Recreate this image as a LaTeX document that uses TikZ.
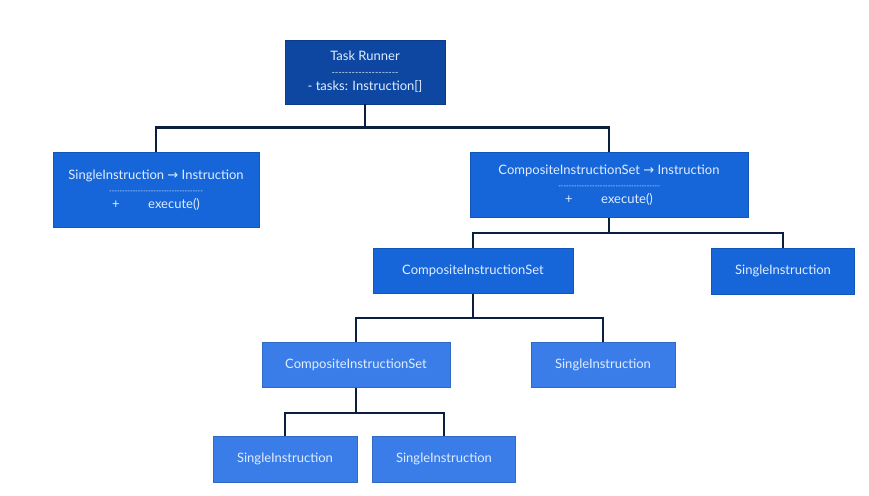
\documentclass[tikz,border=0pt]{standalone}
\usepackage{fontspec}
\newfontfamily\boxfont{Lato}
\newfontfamily\symfont{DejaVu Sans}
\usetikzlibrary{calc}
\definecolor{rootblue}{HTML}{0D47A1}
\definecolor{midblue}{HTML}{1666DA}
\definecolor{leafblue}{HTML}{3A7DE8}
\definecolor{textblue}{HTML}{E1EDFF}
\definecolor{wire}{HTML}{0B1E3F}
\newcommand{\toarrow}{\ {\symfont\fontsize{13}{12}\selectfont→}\ }

\begin{document}
\begin{tikzpicture}[x=1pt, y=-1pt, line width=2.6pt,
  box/.style = {rectangle, draw=#1!85!black, line width=0.6pt, fill=#1, text=textblue,
    font=\boxfont\fontsize{13}{16}\selectfont, align=center, inner sep=2pt},
  link/.style = {draw=wire, line width=2.6pt}]

    \useasboundingbox (0,0) rectangle (869,495);

    \node[box=rootblue, minimum width=160, minimum height=64](runner) at (365,72)
        {Task Runner\\[-1pt]{\fontsize{9}{10}\selectfont --------------------}\\[-1pt]- tasks: Instruction[]};

    \node[box=midblue, minimum width=206, minimum height=75](single) at (156,190)
        {SingleInstruction\toarrow Instruction\\[-2pt]{\fontsize{7}{8}\selectfont ------------------------------------}\\[-1pt]+\hspace{2.2em}execute()};
    \node[box=midblue, minimum width=278, minimum height=65](comp) at (609,185)
        {CompositeInstructionSet\toarrow Instruction\\[-2pt]{\fontsize{7}{8}\selectfont ---------------------------------------}\\[-1pt]+\hspace{2.2em}execute()};

    \node[box=midblue, minimum width=200, minimum height=45](compA) at (473,271) {CompositeInstructionSet};
    \node[box=midblue, minimum width=143, minimum height=46](singleA) at (783,271) {SingleInstruction};

    \node[box=leafblue, minimum width=188, minimum height=45](compB) at (356,365) {CompositeInstructionSet};
    \node[box=leafblue, minimum width=144, minimum height=45](singleB) at (603,365) {SingleInstruction};

    \node[box=leafblue, minimum width=144, minimum height=46](singleC) at (285,459) {SingleInstruction};
    \node[box=leafblue, minimum width=143, minimum height=46](singleD) at (444,459) {SingleInstruction};

    % tree connectors
    \draw[link] (runner.south) -- ++(0,23) -| (single.north);
    \draw[link] (runner.south) -- ++(0,23) -| (comp.north);

    \draw[link] (comp.south) -- ++(0,15) -| (compA.north);
    \draw[link] (comp.south) -- ++(0,15) -| (singleA.north);

    \draw[link] (compA.south) -- ++(0,24) -| (compB.north);
    \draw[link] (compA.south) -- ++(0,24) -| (singleB.north);

    \draw[link] (compB.south) -- ++(0,25) -| (singleC.north);
    \draw[link] (compB.south) -- ++(0,25) -| (singleD.north);

\end{tikzpicture}
\end{document}
